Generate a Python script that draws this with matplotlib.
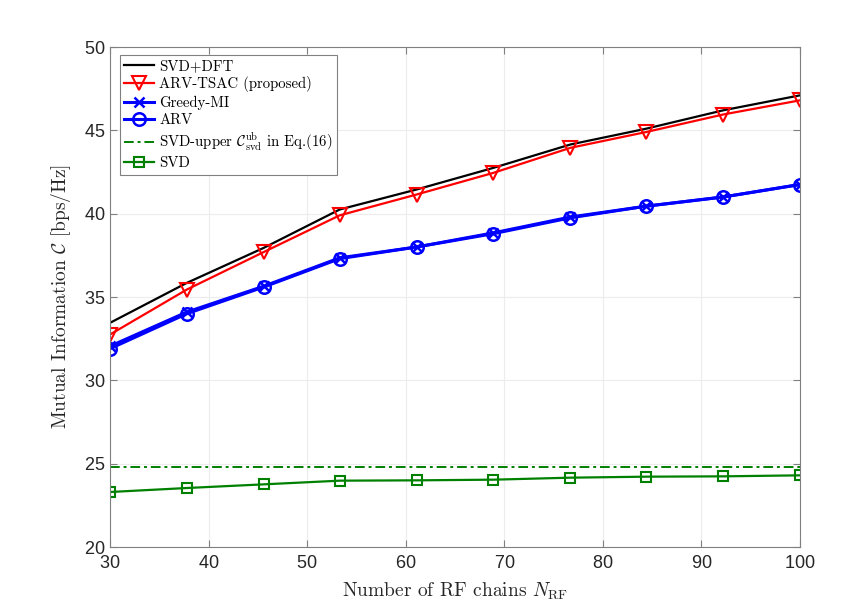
import matplotlib
matplotlib.use("Agg")
import matplotlib.pyplot as plt
import numpy as np

plt.rcParams['mathtext.fontset'] = 'cm'
plt.rcParams['axes.formatter.use_mathtext'] = True

# number of RF chains
n_rf = [30, 37.8, 45.6, 53.3, 61.1, 68.9, 76.7, 84.4, 92.2, 100]

svd_dft = [33.45, 35.85, 37.95, 40.25, 41.45, 42.75, 44.15, 45.1, 46.2, 47.1]
arv_tsac = [32.75, 35.45, 37.7, 39.9, 41.15, 42.45, 43.95, 44.9, 45.95, 46.8]
greedy_mi = [32.05, 34.1, 35.65, 37.35, 38.0, 38.85, 39.8, 40.45, 41.0, 41.75]
arv = [31.9, 34.0, 35.6, 37.3, 38.0, 38.8, 39.75, 40.45, 41.0, 41.75]
svd_upper = 24.78
svd = [23.3, 23.54, 23.76, 23.98, 24.0, 24.04, 24.16, 24.22, 24.24, 24.3]

fig = plt.figure(figsize=(8.49, 6.16), dpi=100)
ax = fig.add_axes([0.1296, 0.112, 0.8127, 0.8117])

ax.plot(n_rf, svd_dft, color='k', lw=1.6, label='SVD+DFT')
ax.plot(n_rf, arv_tsac, color='r', lw=1.6, marker='v', ms=10, mfc='none', mew=1.5,
        label='ARV-TSAC (proposed)')
ax.plot(n_rf, greedy_mi, color='b', lw=2.2, marker='x', ms=7, mew=1.8, label='Greedy-MI')
ax.plot(n_rf, arv, color='b', lw=2.2, marker='o', ms=9, mfc='none', mew=1.8, label='ARV')
ax.plot([n_rf[0], n_rf[-1]], [svd_upper, svd_upper], color='#008000', lw=1.4,
        ls=(0, (5, 2, 1.5, 2)), label=r'SVD-upper $\mathcal{C}_{\mathrm{svd}}^{\mathrm{ub}}$ in Eq.(16)')
ax.plot(n_rf, svd, color='#008000', lw=1.6, marker='s', ms=7, mfc='none', mew=1.5, label='SVD')

ax.set_xlim(30, 100)
ax.set_ylim(20, 50)
ax.set_xticks(np.arange(30, 101, 10))
ax.set_yticks(np.arange(20, 51, 5))

ax.grid(True, color='#ececec', lw=0.8)
ax.set_axisbelow(True)
for s in ax.spines.values():
    s.set_color('#808080')
    s.set_linewidth(0.8)
ax.tick_params(direction='in', top=True, right=True, length=5, width=0.8,
               color='#808080', labelsize=13, labelcolor='#262626')
ax.tick_params(axis='x', pad=6)
for lab in ax.get_xticklabels() + ax.get_yticklabels():
    lab.set_family(['Liberation Sans', 'DejaVu Sans'])

ax.set_xlabel(r'Number of RF chains $N_{\mathrm{RF}}$', family='cmr10', fontsize=14,
              color='#262626', labelpad=6)
ax.set_ylabel(r'Mutual Information $\mathcal{C}$ [bps/Hz]', family='cmr10', fontsize=14,
              color='#262626', labelpad=8)

leg = ax.legend(loc='upper left', bbox_to_anchor=(10 / 690, 1 - 8 / 500), borderaxespad=0,
                prop={'family': 'cmr10', 'size': 10.7},
                fancybox=False, framealpha=1, edgecolor='#808080', handlelength=2.0,
                borderpad=0.3, labelspacing=0.22, handletextpad=0.33)
leg.get_frame().set_linewidth(0.8)

fig.savefig('out.png', dpi=100)
